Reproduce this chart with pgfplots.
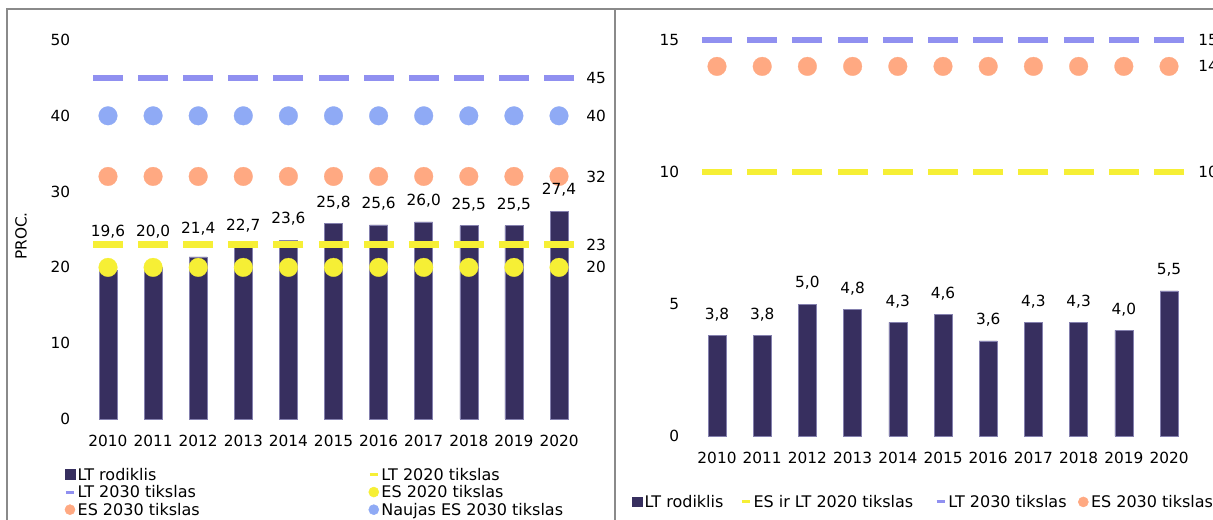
\documentclass[border=0pt]{standalone}
\usepackage{fontspec}
\setmainfont{DejaVu Sans}
\usepackage{pgfplots}
\pgfplotsset{compat=1.18}
\definecolor{barc}{HTML}{372F5F}
\definecolor{baredge}{HTML}{8480AE}
\definecolor{lil}{HTML}{9090F0}
\definecolor{yel}{HTML}{F6EF35}
\definecolor{ora}{HTML}{FFA982}
\definecolor{blu}{HTML}{8FAAF5}
\definecolor{frame}{HTML}{8A8A8A}
\newcommand{\legtxt}[2]{\makebox[#1][l]{\rule[-2.55pt]{0pt}{12.75pt}#2}}
\pgfplotsset{
  common/.style={
    scale only axis, clip=false,
    xmin=2009.5, xmax=2020.5,
    xtick={2010,2011,...,2020},
    axis line style={draw=none},
    major tick length=0pt,
    /pgf/number format/assume math mode=true,
    /pgf/number format/1000 sep={},
    yticklabel style={anchor=east, inner sep=0pt, xshift=-11.2pt},
    xticklabel style={anchor=north, inner sep=0pt, yshift=-12pt},
    legend cell align=left,
  },
  barimg/.style={legend image code/.code={\path[draw=none,fill=none] (0pt,-3.75pt) rectangle (8.25pt,3.75pt);\fill[barc] (0.3pt,-3.6pt) rectangle (7.8pt,3.6pt);}},
  dashimg/.style={legend image code/.code={\path[draw=none,fill=none] (0pt,-3.75pt) rectangle (8.25pt,3.75pt);\draw[#1, line width=2.2pt] (1pt,0pt) -- (7pt,0pt);}},
  dotimg/.style={legend image code/.code={\path[draw=none,fill=none] (0pt,-3.75pt) rectangle (8.25pt,3.75pt);\fill[#1] (4pt,0pt) circle (3.75pt);}},
  dashes/.style={only marks, mark=-, mark size=11.25pt, color=#1, mark options={line width=4.9pt, draw=#1}},
  dots/.style={only marks, mark=*, mark size=7pt, color=#1, mark options={draw=#1, fill=#1, line width=0.2pt}},
  legfont/.style={font=\fontsize{12}{14}\selectfont},
}
\begin{document}
\begin{tikzpicture}[font=\fontsize{11.5}{13.5}\selectfont]
\path[use as bounding box] (0,-390pt) rectangle (909.75pt,0pt);
\clip (0,-390pt) rectangle (909.75pt,0pt);
\fill[white] (0,-390pt) rectangle (909.75pt,0pt);
\draw[frame, line width=1pt] (5.25pt,-391pt) -- (5.25pt,-6.75pt) -- (909.75pt,-6.75pt);
\draw[frame, line width=2pt] (461.25pt,-6.75pt) -- (461.25pt,-391pt);

% ---------------- left panel ----------------
\begin{axis}[common,
  at={(64.09pt,-314.25pt)}, anchor=south west,
  width=372.08pt, height=284.25pt,
  ymin=0, ymax=50, ytick={0,10,...,50},
  ylabel={PROC.},
  every axis y label/.style={at={(rel axis cs:-0.1299,0.483)}, rotate=90, anchor=center},
  legend columns=2,
  legend style={at={(0,0)}, anchor=north west, xshift=-15.9pt, yshift=-35.55pt,
    draw=none, fill=none, inner sep=0pt, row sep=1.5pt, legfont,
    nodes={inner xsep=1pt, inner ysep=0pt},
    /tikz/every odd column/.append style={column sep=0.5pt},
    /tikz/every even column/.append style={column sep=0pt}},
]
\addplot[ybar, bar width=13.5pt, fill=barc, draw=baredge, line width=0.4pt, barimg]
  coordinates {(2010,19.6) (2011,20.0) (2012,21.4) (2013,22.7) (2014,23.6) (2015,25.8)
               (2016,25.6) (2017,26.0) (2018,25.5) (2019,25.5) (2020,27.4)};
\addlegendentry{\legtxt{217pt}{LT rodiklis}}
\addplot[dashes=yel, dashimg=yel]
  coordinates {(2010,23) (2011,23) (2012,23) (2013,23) (2014,23) (2015,23)
               (2016,23) (2017,23) (2018,23) (2019,23) (2020,23)};
\addlegendentry{\legtxt{10pt}{LT 2020 tikslas}}
\addplot[dashes=lil, dashimg=lil]
  coordinates {(2010,45) (2011,45) (2012,45) (2013,45) (2014,45) (2015,45)
               (2016,45) (2017,45) (2018,45) (2019,45) (2020,45)};
\addlegendentry{\legtxt{217pt}{LT 2030 tikslas}}
\addplot[dots=yel, dotimg=yel]
  coordinates {(2010,20) (2011,20) (2012,20) (2013,20) (2014,20) (2015,20)
               (2016,20) (2017,20) (2018,20) (2019,20) (2020,20)};
\addlegendentry{\legtxt{10pt}{ES 2020 tikslas}}
\addplot[dots=ora, dotimg=ora]
  coordinates {(2010,32) (2011,32) (2012,32) (2013,32) (2014,32) (2015,32)
               (2016,32) (2017,32) (2018,32) (2019,32) (2020,32)};
\addlegendentry{\legtxt{217pt}{ES 2030 tikslas}}
\addplot[dots=blu, dotimg=blu]
  coordinates {(2010,40) (2011,40) (2012,40) (2013,40) (2014,40) (2015,40)
               (2016,40) (2017,40) (2018,40) (2019,40) (2020,40)};
\addlegendentry{\legtxt{10pt}{Naujas ES 2030 tikslas}}
% bar value labels
\addplot[forget plot, draw=none, nodes near coords, point meta=explicit symbolic,
  every node near coord/.append style={anchor=center, inner sep=0pt}]
  table[meta=l] {
x y l
2010 24.7 19,6
2011 24.7 20,0
2012 25.1 21,4
2013 25.5 22,7
2014 26.4 23,6
2015 28.6 25,8
2016 28.4 25,6
2017 28.8 26,0
2018 28.3 25,5
2019 28.3 25,5
2020 30.2 27,4
};
% end labels
\addplot[forget plot, draw=none, nodes near coords, point meta=explicit symbolic,
  every node near coord/.append style={anchor=west, inner sep=0pt, xshift=20.25pt}]
  table[meta=l] {
x y l
2020 45 45
2020 40 40
2020 32 32
2020 23 23
2020 20 20
};
\end{axis}

% ---------------- right panel ----------------
\begin{axis}[common,
  at={(520.8pt,-327pt)}, anchor=south west,
  width=372.9pt, height=297pt,
  ymin=0, ymax=15, ytick={0,5,10,15},
  legend columns=4,
  legend style={at={(0,0)}, anchor=north west, xshift=-47.2pt, yshift=-43.4pt,
    draw=none, fill=none, inner sep=0pt, legfont,
    nodes={inner xsep=1pt, inner ysep=0pt},
    /tikz/every odd column/.append style={column sep=0.5pt},
    /tikz/every even column/.append style={column sep=0pt}},
]
\addplot[ybar, bar width=13.5pt, fill=barc, draw=baredge, line width=0.4pt, barimg,
  nodes near coords={\pgfmathprintnumber[fixed, fixed zerofill, precision=1, use comma, assume math mode=true]{\pgfplotspointmeta}},
  point meta=y,
  every node near coord/.append style={anchor=center, inner sep=0pt, yshift=15.75pt, text=black}]
  coordinates {(2010,3.8) (2011,3.8) (2012,5.0) (2013,4.8) (2014,4.3) (2015,4.6)
               (2016,3.6) (2017,4.3) (2018,4.3) (2019,4.0) (2020,5.5)};
\addlegendentry{\legtxt{70.75pt}{LT rodiklis}}
\addplot[dashes=yel, dashimg=yel]
  coordinates {(2010,10) (2011,10) (2012,10) (2013,10) (2014,10) (2015,10)
               (2016,10) (2017,10) (2018,10) (2019,10) (2020,10)};
\addlegendentry{\legtxt{135.25pt}{ES ir LT 2020 tikslas}}
\addplot[dashes=lil, dashimg=lil]
  coordinates {(2010,15) (2011,15) (2012,15) (2013,15) (2014,15) (2015,15)
               (2016,15) (2017,15) (2018,15) (2019,15) (2020,15)};
\addlegendentry{\legtxt{96.25pt}{LT 2030 tikslas}}
\addplot[dots=ora, dotimg=ora]
  coordinates {(2010,14) (2011,14) (2012,14) (2013,14) (2014,14) (2015,14)
               (2016,14) (2017,14) (2018,14) (2019,14) (2020,14)};
\addlegendentry{\legtxt{20pt}{ES 2030 tikslas}}
\addplot[forget plot, draw=none, nodes near coords, point meta=explicit symbolic,
  every node near coord/.append style={anchor=west, inner sep=0pt, xshift=21.75pt}]
  table[meta=l] {
x y l
2020 15 15
2020 14 14
2020 10 10
};
\end{axis}
\end{tikzpicture}
\end{document}
